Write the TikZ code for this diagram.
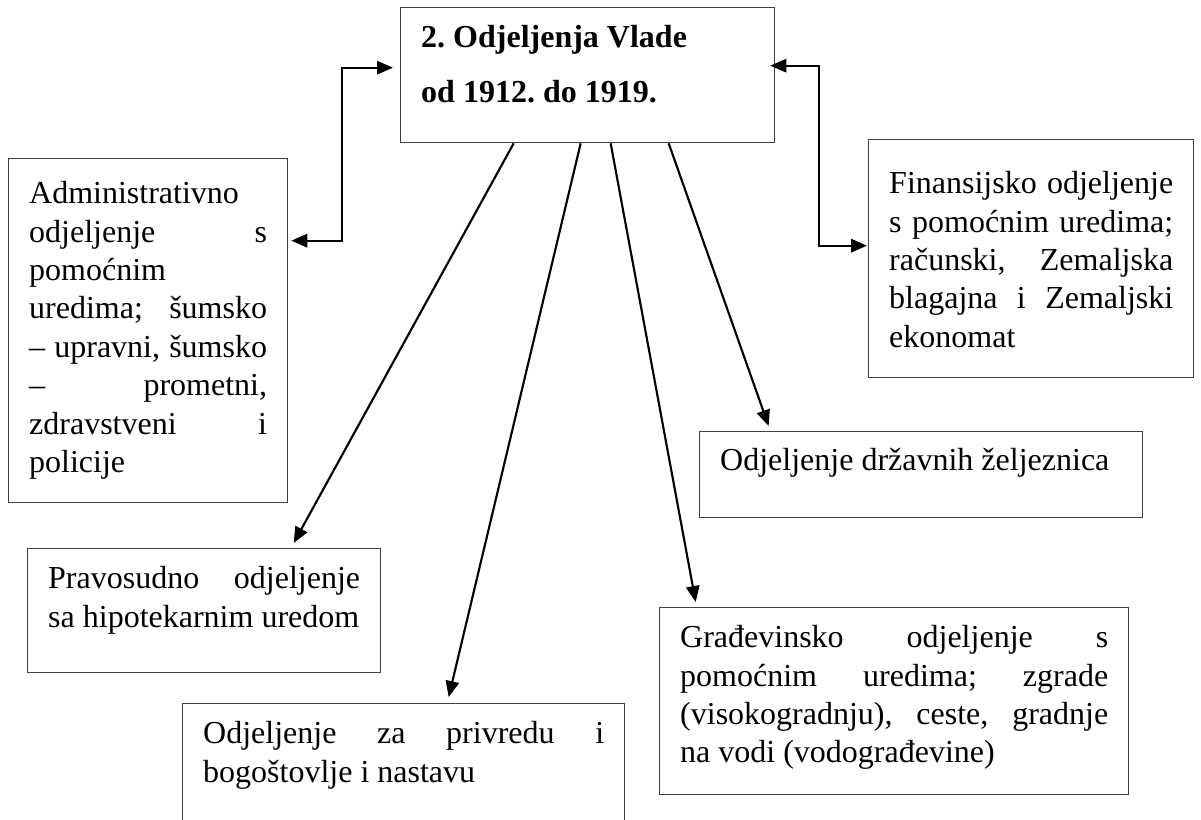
\documentclass[tikz,border=0pt]{standalone}
\usepackage{fontspec}
\setmainfont{Liberation Serif}
\usetikzlibrary{arrows.meta,calc}
\frenchspacing
\newcommand{\deptbox}[4]{\parbox[t][#2][t]{#1}{\rule{0pt}{#3}#4}}

\begin{document}
\begin{tikzpicture}[x=0.375pt,y=-0.375pt,
  font=\fontsize{12pt}{14.4pt}\selectfont,
  dept/.style={draw=black!75, line width=0.5pt, anchor=north west, inner ysep=0pt, inner xsep=7.7pt},
  arr/.style={-{Triangle[length=6pt,width=5pt]}, thick},
  dblarr/.style={{Triangle[length=6pt,width=5pt]}-{Triangle[length=6pt,width=5pt]}, thick}]
\useasboundingbox (0,0) rectangle (1201,819);
\clip (0,0) rectangle (1201,819);
\node [dept] (gov) at (400,7) {\deptbox{124.85pt}{50.625pt}{15pt}{\bfseries 2. Odjeljenja Vlade\\[6.2pt]od 1912. do 1919.}};
\node [dept] (admin) at (8,158) {\deptbox{89.2pt}{129pt}{16.9pt}{Administrativno\\ odjeljenje\hfill s\\ pomoćnim\\ uredima;\hfill šumsko\\ –\hfill upravni,\hfill šumsko\\ –\hfill prometni,\\ zdravstveni\hfill i\\ policije}};
\node [dept] (fin) at (868,139) {\deptbox{106.5pt}{89.25pt}{20.25pt}{Finansijsko\hfill odjeljenje\\ s\hfill pomoćnim\hfill uredima;\\ računski,\hfill Zemaljska\\ blagajna\hfill i\hfill Zemaljski\\ ekonomat}};
\node [dept] (zelj) at (699,431) {\deptbox{150.7pt}{32.25pt}{14.6pt}{Odjeljenje državnih željeznica}};
\node [dept] (prav) at (27,548) {\deptbox{117pt}{46.5pt}{15pt}{Pravosudno\hfill odjeljenje\\ sa hipotekarnim uredom}};
\node [dept] (priv) at (182,703) {\deptbox{150.35pt}{52pt}{15pt}{Odjeljenje\hfill za\hfill privredu\hfill i\\ bogoštovlje i nastavu}};
\node [dept] (grad) at (659,607) {\deptbox{160.5pt}{70.125pt}{15pt}{Građevinsko\hfill odjeljenje\hfill s\\ pomoćnim\hfill uredima;\hfill zgrade\\ (visokogradnju),\hfill ceste,\hfill gradnje\\ na vodi (vodograđevine)}};
\draw [dblarr] ($(admin.east)+(3,-90)$) -- ++(51,0) |- ($(gov.west)+(-7,-7.5)$);
\draw [dblarr] ($(gov.east)+(-5,-9.5)$) -- ++(49,0) |- ($(fin.west)+(-1,-13)$);
\draw [arr] ($(gov.south)+(-74,0)$) -- ($(prav.north)+(89.5,-5)$);
\draw [arr] ($(gov.south)+(-7,0)$) -- ($(priv.north)+(45,-6)$);
\draw [arr] ($(gov.south)+(23,0)$) -- ($(grad.north)+(-198.5,-5)$);
\draw [arr] ($(gov.south)+(81,0)$) -- ($(zelj.north)+(-152.5,-5)$);
\end{tikzpicture}
\end{document}
